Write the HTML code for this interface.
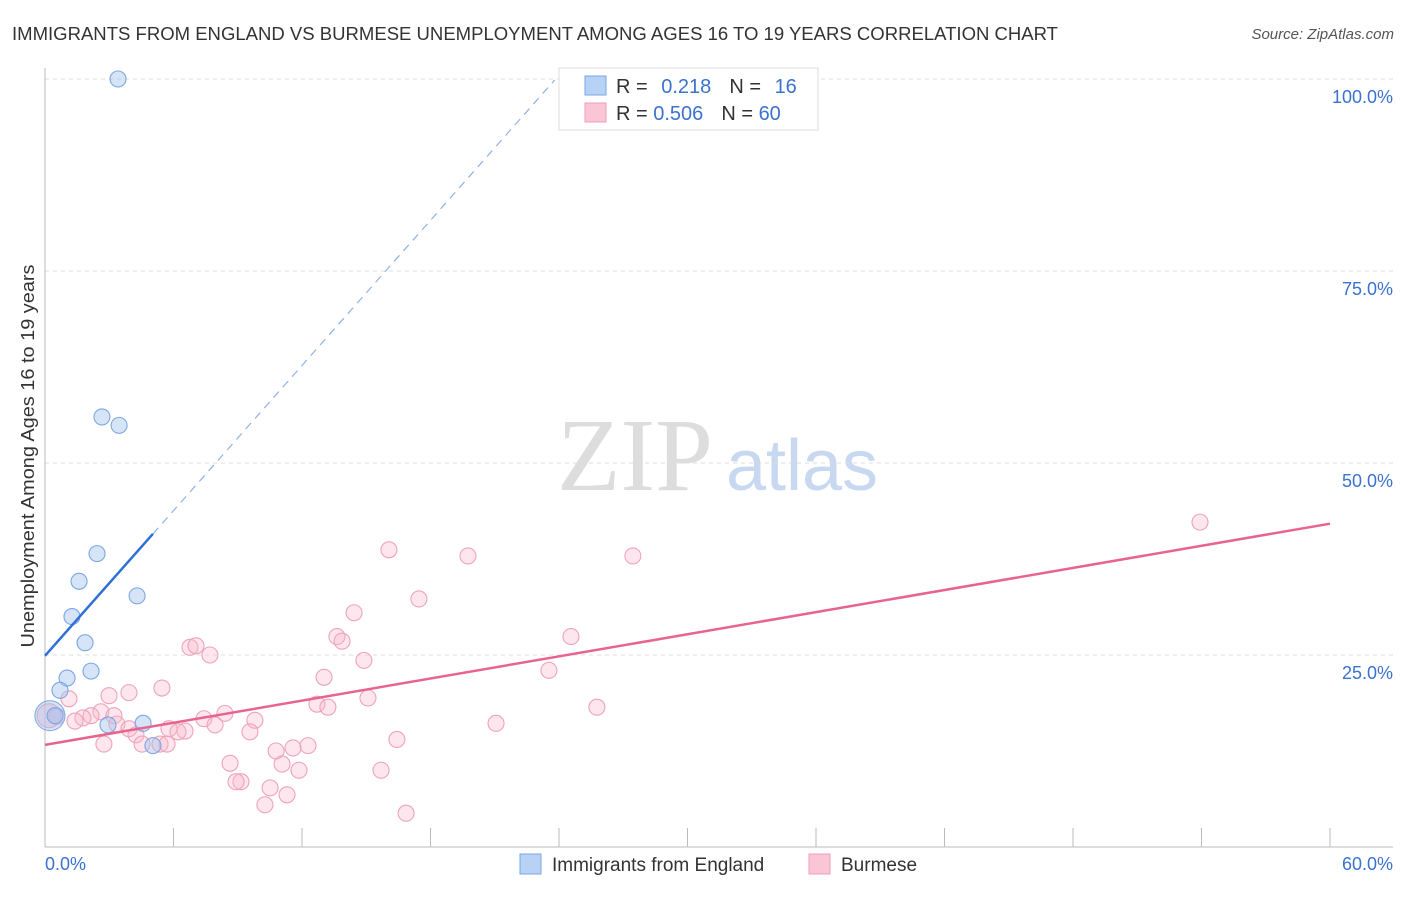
<!DOCTYPE html>
<html><head><meta charset="utf-8"><style>
body{margin:0;background:#fff;font-family:"Liberation Sans",sans-serif;}
</style></head><body>
<svg id="chart" width="1406" height="892" font-family="Liberation Sans, sans-serif">
<text x="12" y="40" font-size="18" fill="#333" textLength="1046" lengthAdjust="spacingAndGlyphs">IMMIGRANTS FROM ENGLAND VS BURMESE UNEMPLOYMENT AMONG AGES 16 TO 19 YEARS CORRELATION CHART</text>
<text x="1394" y="39" font-size="15" fill="#555" font-style="italic" text-anchor="end">Source: ZipAtlas.com</text>
<text x="635" y="490" font-size="104" fill="#ddd" style="font-family:'Liberation Serif',serif" text-anchor="middle">ZIP</text>
<text x="802" y="490" font-size="72" fill="#c8d8f0" text-anchor="middle">atlas</text>
<text transform="translate(34,456) rotate(-90)" font-size="18" fill="#333" text-anchor="middle" textLength="383" lengthAdjust="spacingAndGlyphs">Unemployment Among Ages 16 to 19 years</text>
<g id="grid"></g><g id="axes"></g><g id="marks"></g>
<g>
<rect x="559" y="68" width="259" height="62" fill="#fff" stroke="#ddd"/>
<rect x="585" y="76" width="21" height="19" fill="#b8d2f5" stroke="#7aa6e6"/>
<rect x="585" y="103" width="21" height="19" fill="#f9c6d5" stroke="#ef9db6"/>
<text x="616" y="93" font-size="20" fill="#333">R = <tspan fill="#3a72d0" dx="8">0.218</tspan><tspan fill="#333" dx="18">N = </tspan><tspan fill="#3a72d0" dx="8">16</tspan></text>
<text x="616" y="120" font-size="20" fill="#333">R = <tspan fill="#3a72d0">0.506</tspan><tspan fill="#333" dx="18">N = </tspan><tspan fill="#3a72d0">60</tspan></text>
</g>
<g>
<rect x="520" y="854" width="21" height="20" fill="#b8d2f5" stroke="#7aa6e6"/>
<text x="552" y="871" font-size="19" fill="#333">Immigrants from England</text>
<rect x="809" y="854" width="21" height="20" fill="#f9c6d5" stroke="#ef9db6"/>
<text x="841" y="871" font-size="19" fill="#333">Burmese</text>
</g>
</svg>
<script>
const yTicks=[25,50,75,100];
const yTickLabels=["25.0%","50.0%","75.0%","100.0%"];
const xTickLabels=["0.0%","60.0%"];
const englandX=[3.41,2.66,3.46,2.43,1.59,4.30,1.26,1.87,2.15,1.03,0.70,0.47,4.58,2.94,5.04];
const englandY=[100,56.0,54.9,38.2,34.6,32.7,30.0,26.6,22.9,22.0,20.4,17.1,16.1,15.9,13.2];
const englandBigX=[0.23], englandBigY=[17.1];
const burmeseX=[53.93,16.06,19.75,27.45,17.46,14.43,13.63,24.56,13.87,6.77,7.05,7.70,14.89,23.53,13.03,5.46,3.92,2.99,1.12,15.08,12.70,13.21,25.77,2.61,8.40,2.15,3.22,1.77,7.42,9.80,1.40,21.06,3.36,7.94,3.92,5.79,6.54,9.57,4.25,16.43,12.28,11.58,10.79,2.75,5.37,4.53,5.70,8.64,11.07,15.69,11.86,9.15,8.92,10.51,11.30,10.27,16.86,6.21,0.56];
const burmeseY=[42.3,38.7,37.9,37.9,32.3,30.5,27.4,27.4,26.8,26.0,26.2,25.0,24.3,23.0,22.1,20.7,20.1,19.7,19.3,19.4,18.6,18.2,18.2,17.6,17.4,17.1,17.1,16.8,16.7,16.5,16.4,16.1,16.0,15.9,15.4,15.4,15.1,15.0,14.6,14.0,13.2,12.9,12.5,13.4,13.4,13.4,13.4,10.9,10.8,10.0,10.0,8.5,8.5,7.7,6.8,5.5,4.4,15.0,17.0];
const burmeseBigX=[0.19], burmeseBigY=[17.1];
const englandTrend=[24.9,3.15]; // intercept, slope
const englandSolidEnd=5.04, englandDashEnd=23.8;
const burmeseTrend=[13.3,42.1]; // y at 0 and at 60

const NS="http://www.w3.org/2000/svg";
const X=v=>45+v/60*1285, Y=v=>847-v/100*768;
function mk(tag,attrs,parent){const e=document.createElementNS(NS,tag);for(const k in attrs)e.setAttribute(k,attrs[k]);document.getElementById(parent).appendChild(e);return e;}
yTicks.forEach((t,i)=>{
 const l=mk('line',{x1:45,x2:1393,y1:Y(t),y2:Y(t),stroke:'#ddd','stroke-dasharray':'4,4'},'grid');
 
 
 const tx=mk('text',{x:1393,y:Y(t)+24,'font-size':18,fill:'#3a72d0','text-anchor':'end'},'grid');
 tx.textContent=yTickLabels[i];
 
 
});
const ax=mk('line',{x1:45,x2:45,y1:68,y2:847,stroke:'#bbb'},'axes');


const bx=mk('line',{x1:45,x2:1393,y1:847,y2:847,stroke:'#bbb'},'axes');


for(let i=1;i<=10;i++){const t=mk('line',{x1:X(i*6),x2:X(i*6),y1:828,y2:847,stroke:'#bbb'},'axes');
 
 }
[[45,'start',0],[1393,'end',1]].forEach(([x,a,i])=>{const t=mk('text',{x:x,y:870,'font-size':18,fill:'#3a72d0','text-anchor':a},'axes');t.textContent=xTickLabels[i];
 
 });
function dots(xs,ys,r,fill,stroke,name){xs.forEach((x,i)=>{const c=mk('circle',{cx:X(x),cy:Y(ys[i]),r:r,fill:fill,stroke:stroke,'stroke-width':1.1},'marks');
 
 });}
dots(burmeseX,burmeseY,8,'rgba(248,182,202,0.35)','#efa3bb','burmese-point');
dots(burmeseBigX,burmeseBigY,12,'rgba(248,182,202,0.45)','#efa3bb','burmese-point');
dots(englandBigX,englandBigY,15,'rgba(164,196,240,0.45)','#86aee8','england-point');
dots(englandX,englandY,8,'rgba(164,196,240,0.45)','#7ca6e4','england-point');
const pl=mk('line',{x1:X(0),y1:Y(burmeseTrend[0]),x2:X(60),y2:Y(burmeseTrend[1]),stroke:'#e8648f','stroke-width':2.5},'marks');


const el=mk('line',{x1:X(0),y1:Y(englandTrend[0]),x2:X(englandSolidEnd),y2:Y(englandTrend[0]+englandTrend[1]*englandSolidEnd),stroke:'#2f6fd6','stroke-width':2.5},'marks');


const ed=mk('line',{x1:X(englandSolidEnd),y1:Y(englandTrend[0]+englandTrend[1]*englandSolidEnd),x2:X(englandDashEnd),y2:Y(englandTrend[0]+englandTrend[1]*englandDashEnd),stroke:'#8fb2ea','stroke-width':1.2,'stroke-dasharray':'8,6'},'marks');


</script>
</body></html>
